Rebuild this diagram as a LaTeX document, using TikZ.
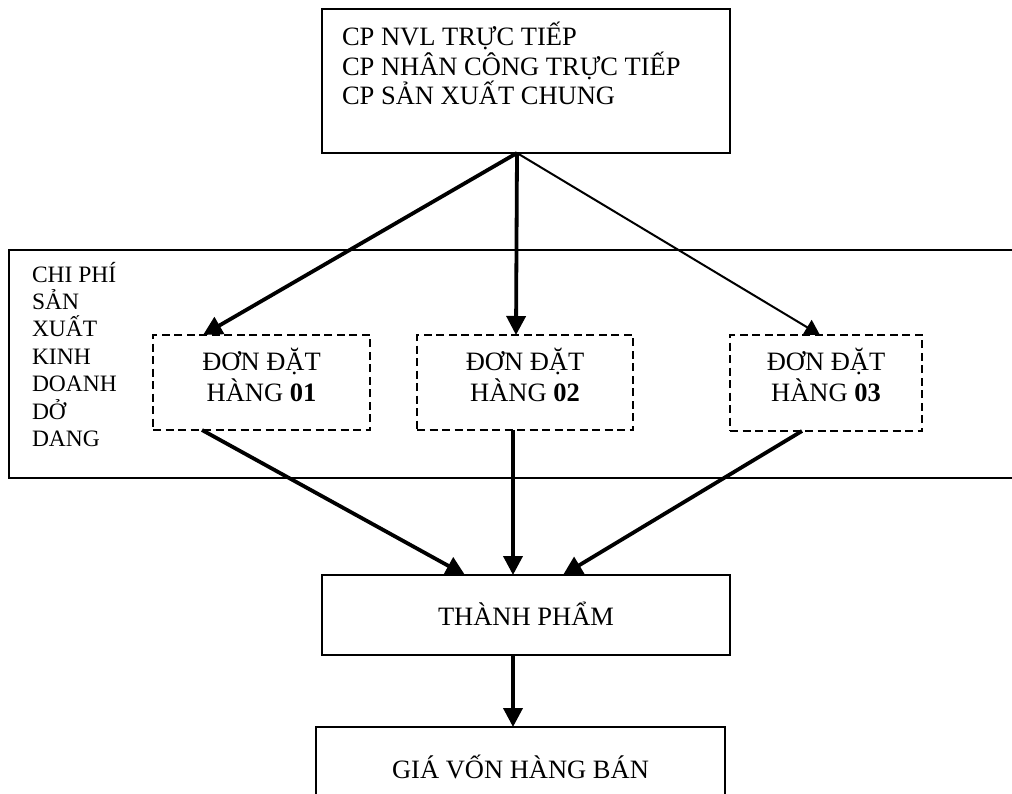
\documentclass[tikz,border=0pt]{standalone}
\usepackage{fontspec}
\setmainfont{Liberation Serif}
\usetikzlibrary{arrows.meta}
\begin{document}
\begin{tikzpicture}[x=1pt,y=-1pt,
  box/.style={draw,line width=1.8pt,outer sep=0pt,inner sep=0pt},
  ordbox/.style={draw,line width=1.6pt,dash pattern=on 8pt off 4.5pt,outer sep=0pt,inner sep=0pt,minimum height=95pt},
  txt/.style={inner sep=0pt,outer sep=0pt,font=\fontsize{26.5}{30}\selectfont},
  sidetxt/.style={inner sep=0pt,outer sep=0pt,anchor=base west,font=\fontsize{23.5}{27}\selectfont},
  thickarr/.style={line width=3.8pt,-{Triangle[length=19pt,width=19pt]}},
  thinarr/.style={line width=2pt,-{Triangle[length=15pt,width=17pt]}}]
\useasboundingbox (0,0) rectangle (1012,793);
\clip (0,0) rectangle (1012,793);
% boxes
\node[box,minimum width=408pt,minimum height=144pt] (cost) at (526,81) {};
\node[box,minimum width=1011pt,minimum height=228pt] (wip) at (514.5,364) {};
\node[ordbox,minimum width=217pt] (o1) at (261.5,382.5) {};
\node[ordbox,minimum width=216pt] (o2) at (525,382.5) {};
\node[ordbox,minimum width=192pt,minimum height=96pt] (o3) at (826,383) {};
\node[box,minimum width=408pt,minimum height=80pt] (tp) at (526,615) {};
\node[box,minimum width=409pt,minimum height=100pt] (gv) at (520.5,777) {};
% texts
\node[txt,anchor=base west] (c1) at (342,45) {CP NVL TRỰC TIẾP};
\node[txt,anchor=base west] (c2) at (342,75) {CP NHÂN CÔNG TRỰC TIẾP};
\node[txt,anchor=base west] (c3) at (342,104) {CP SẢN XUẤT CHUNG};
\node[sidetxt] (s1) at (32,282) {CHI PHÍ};
\node[sidetxt] (s2) at (32,309.4) {SẢN};
\node[sidetxt] (s3) at (32,336.8) {XUẤT};
\node[sidetxt] (s4) at (32,364.2) {KINH};
\node[sidetxt] (s5) at (32,391.6) {DOANH};
\node[sidetxt] (s6) at (32,419) {DỞ};
\node[sidetxt] (s7) at (32,446.4) {DANG};
\node[txt,anchor=base] (o1a) at (261.5,370) {ĐƠN ĐẶT};
\node[txt,anchor=base] (o1b) at (261.5,401.5) {HÀNG \textbf{01}};
\node[txt,anchor=base] (o2a) at (525,370) {ĐƠN ĐẶT};
\node[txt,anchor=base] (o2b) at (525,401.5) {HÀNG \textbf{02}};
\node[txt,anchor=base] (o3a) at (826,370) {ĐƠN ĐẶT};
\node[txt,anchor=base] (o3b) at (826,401.5) {HÀNG \textbf{03}};
\node[txt,anchor=base] (tpt) at (526,625) {THÀNH PHẨM};
\node[txt,anchor=base] (gvt) at (520.5,778) {GIÁ VỐN HÀNG BÁN};
% connectors
\draw[thickarr] ([xshift=-9pt]cost.south) -- ([xshift=-58.5pt]o1.north);
\draw[thickarr] ([xshift=-9pt]cost.south) -- ([xshift=-9pt]o2.north);
\draw[thinarr] ([xshift=-9pt]cost.south) -- ([xshift=-6pt]o3.north);
\draw[thickarr] ([xshift=-59.5pt]o1.south) -- ([xshift=-61pt]tp.north);
\draw[thickarr] ([xshift=-12pt]o2.south) -- ([xshift=-13pt]tp.north);
\draw[thickarr] ([xshift=-24pt]o3.south) -- ([xshift=37pt]tp.north);
\draw[thickarr] ([xshift=-13pt]tp.south) -- ([xshift=-7.5pt]gv.north);
\end{tikzpicture}
\end{document}
